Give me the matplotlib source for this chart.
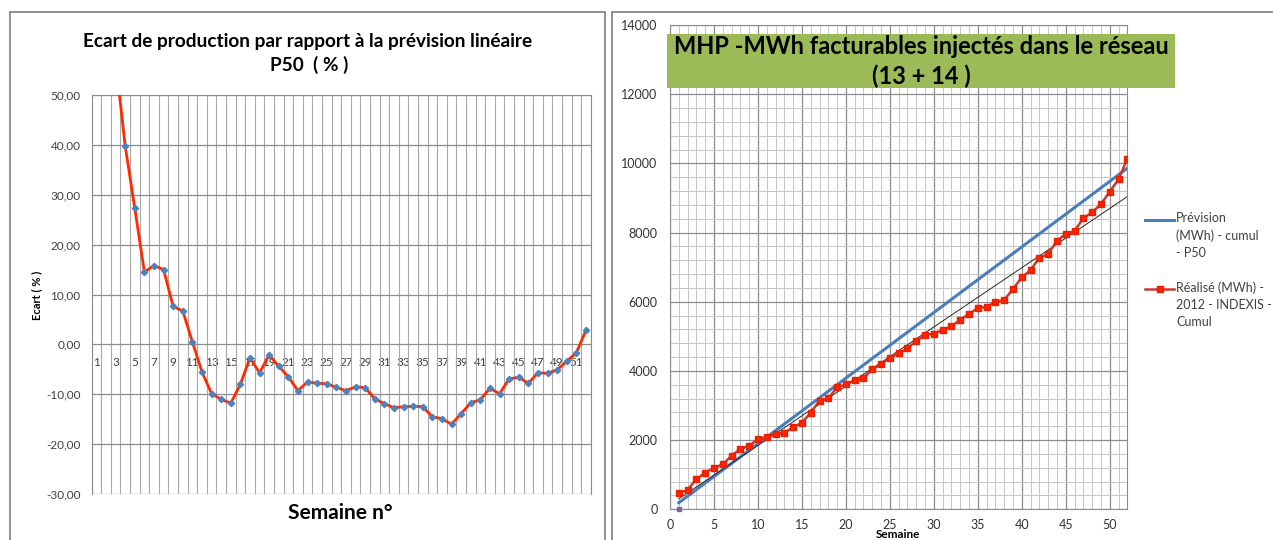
import matplotlib
import numpy as np

matplotlib.use("Agg")
import matplotlib.pyplot as plt  # noqa: E402
from matplotlib.lines import Line2D  # noqa: E402
from matplotlib.patches import Rectangle  # noqa: E402
from matplotlib.ticker import FuncFormatter, MultipleLocator  # noqa: E402

plt.rcParams["font.family"] = ["Lato", "DejaVu Sans"]

# ── Data ───────────────────────────────────────────────────────────────────────

weeks = list(range(1, 53))

# left chart: deviation from the linear P50 forecast (%)
ecart_pct = [np.nan, np.nan, 57.0, 39.8, 27.3, 14.5, 15.8, 15.0, 7.6, 6.7,
             0.5, -5.5, -9.9, -11.0, -11.8, -8.0, -2.7, -5.7, -2.1, -4.4,
             -6.5, -9.3, -7.5, -7.8, -7.9, -8.6, -9.3, -8.5, -8.7, -10.9,
             -11.9, -12.7, -12.5, -12.4, -12.5, -14.5, -14.9, -16.0, -13.9, -11.7,
             -11.1, -8.8, -9.9, -6.9, -6.6, -7.8, -5.7, -5.8, -5.1, -3.4,
             -1.7, 2.8]

# right chart: cumulative MWh
prevision_cumul = [190, 379, 569, 758, 948, 1138, 1327, 1517, 1706, 1896,
                   2086, 2275, 2465, 2654, 2844, 3034, 3223, 3413, 3602, 3792,
                   3982, 4171, 4361, 4550, 4740, 4930, 5119, 5309, 5498, 5688,
                   5878, 6067, 6257, 6446, 6636, 6826, 7015, 7205, 7394, 7584,
                   7774, 7963, 8153, 8342, 8532, 8722, 8911, 9101, 9290, 9480,
                   9670, 9859]
realise_cumul = [462, 558, 876, 1058, 1202, 1300, 1549, 1743, 1838, 2023,
                 2098, 2168, 2214, 2370, 2503, 2792, 3139, 3208, 3526, 3613,
                 3737, 3795, 4046, 4191, 4382, 4509, 4653, 4864, 5038, 5080,
                 5182, 5298, 5471, 5655, 5809, 5855, 5990, 6050, 6367, 6705,
                 6916, 7272, 7379, 7763, 7957, 8052, 8410, 8584, 8824, 9179,
                 9538, 10133]
extra_week = [1]
extra_value = [0]

legend_labels = ["Prévision\n(MWh) - cumul\n- P50",
                 "Réalisé (MWh) -\n2012 - INDEXIS -\nCumul"]

# ── Layout helpers (pixel -> figure fraction) ─────────────────────────────────

W, H = 1273, 540
TXT = "#404040"
GRID = "#8c8c8c"


def fx(px):
    return px / W


def fy(py):
    return 1 - py / H


fig = plt.figure(figsize=(W / 100, H / 100), dpi=100)

# panel frames
for x0, x1 in [(10, 605), (612, 1290)]:
    fig.add_artist(Rectangle((fx(x0), fy(560)), fx(x1) - fx(x0), fy(12) - fy(560),
                             transform=fig.transFigure, fill=False,
                             edgecolor="#878787", lw=1.3))

# ── Left chart ────────────────────────────────────────────────────────────────

ax1 = fig.add_axes([fx(91.6), fy(494), fx(590.7) - fx(91.6), fy(95) - fy(494)])
ax1.plot(weeks, ecart_pct, color="#ff2a00", lw=2.0, marker="D", ms=3.2,
         mfc="#4f81bd", mec="#4f81bd", zorder=3)
ax1.set_xlim(0.5, 52.5)
ax1.set_ylim(-30, 50)
ax1.set_yticks(range(-30, 51, 10))
ax1.yaxis.set_major_formatter(FuncFormatter(lambda v, _: f"{v:.2f}".replace(".", ",")))
ax1.set_xticks(weeks)
ax1.set_xticklabels([str(w) if w % 2 else "" for w in weeks])
ax1.set_xticks(np.arange(0.5, 53, 1), minor=True)
ax1.spines["bottom"].set_position(("data", 0))
ax1.spines["bottom"].set_visible(False)
for side in ["left", "right", "top"]:
    ax1.spines[side].set_color(GRID)
ax1.grid(axis="y", which="major", color=GRID, lw=0.9)
ax1.grid(axis="x", which="minor", color="#a8a8a8", lw=0.8)
ax1.tick_params(axis="both", which="both", length=0, labelsize=8.5, labelcolor=TXT)
ax1.tick_params(axis="x", pad=9)
ax1.tick_params(axis="y", pad=8)

fig.text(fx(308), fy(41), "Ecart de production par rapport à la prévision linéaire",
         ha="center", va="center", fontsize=13.7, fontweight="bold")
fig.text(fx(309), fy(65), "P50  ( % )", ha="center", va="center",
         fontsize=13.7, fontweight="bold")
fig.text(fx(37), fy(295), "Ecart ( % )", rotation=90, ha="center", va="center",
         fontsize=8, fontweight="bold")
fig.text(fx(340), fy(513), "Semaine n°", ha="center", va="center",
         fontsize=15, fontweight="bold")

# ── Right chart ───────────────────────────────────────────────────────────────

ax2 = fig.add_axes([fx(670), fy(509.3), fx(1127.3) - fx(670), fy(25) - fy(509.3)])
ax2.plot(weeks, prevision_cumul, color="#4a7ebb", lw=2.2, zorder=3)
trend = np.polyfit(weeks, realise_cumul, 1)
ax2.plot(weeks, np.polyval(trend, weeks), color="#262626", lw=0.7, zorder=4)
ax2.plot(weeks, realise_cumul, color="#c8392e", lw=1.8, marker="s", ms=4.2,
         mfc="#ff2200", mec="#e82000", zorder=5)
ax2.plot(extra_week, extra_value, "s", color="#8064a2", ms=2.8, clip_on=False, zorder=6)

ax2.set_xlim(0, 52)
ax2.set_ylim(0, 14000)
ax2.xaxis.set_major_locator(MultipleLocator(5))
ax2.xaxis.set_minor_locator(MultipleLocator(1))
ax2.yaxis.set_major_locator(MultipleLocator(2000))
ax2.yaxis.set_minor_locator(MultipleLocator(400))
ax2.grid(which="major", color=GRID, lw=0.9)
ax2.grid(which="minor", color="#c6c6c6", lw=0.7)
ax2.set_axisbelow(True)
for side in ax2.spines:
    ax2.spines[side].set_color(GRID)
ax2.tick_params(axis="both", which="both", length=0, labelsize=9, labelcolor="#333333")
ax2.tick_params(axis="x", pad=7)
ax2.tick_params(axis="y", pad=9)

fig.text(fx(898), fy(534), "Semaine", ha="center", va="center",
         fontsize=8.5, fontweight="bold")

# title box
fig.add_artist(Rectangle((fx(667), fy(88)), fx(1175) - fx(667), fy(34) - fy(88),
                         transform=fig.transFigure, facecolor="#9bbb59",
                         edgecolor="none", zorder=10))
fig.text(fx(921), fy(47), "MHP -MWh facturables injectés dans le réseau",
         ha="center", va="center", fontsize=17, fontweight="bold", zorder=11)
fig.text(fx(921), fy(76), "(13 + 14 )", ha="center", va="center",
         fontsize=17, fontweight="bold", zorder=11)

# legend
fig.add_artist(Line2D([fx(1145), fx(1174)], [fy(220), fy(220)],
                      transform=fig.transFigure, color="#4a7ebb", lw=2.2))
fig.add_artist(Line2D([fx(1145), fx(1174)], [fy(289), fy(289)],
                      transform=fig.transFigure, color="#c8392e", lw=1.8))
fig.add_artist(Line2D([fx(1160)], [fy(289)], transform=fig.transFigure,
                      marker="s", ms=4.2, mfc="#ff2200", mec="#e82000", lw=0))
for label, top in zip(legend_labels, [212, 281]):
    fig.text(fx(1176), fy(top), label, ha="left", va="top", fontsize=9,
             color=TXT, linespacing=1.5)

fig.savefig("out.png", dpi=100)
plt.close(fig)
